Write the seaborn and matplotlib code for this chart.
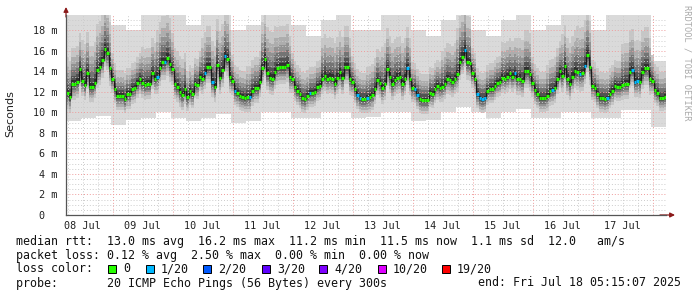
import numpy as np
import matplotlib
matplotlib.use("Agg")
import matplotlib.pyplot as plt
import seaborn as sns
import pandas as pd
from matplotlib.patches import Rectangle

# ---------------- data (hourly medians, ms) ----------------
median_ms = [
    11.9, 11.5, 12.8, 12.8, 13.0, 14.2, 13.1, 12.7, 13.8, 12.5,
    12.5, 12.9, 14.1, 14.4, 15.1, 16.2, 15.8, 14.3, 13.3, 12.3,
    11.6, 11.6, 11.6, 11.3, 11.8, 11.8, 12.3, 12.4, 12.9, 13.3,
    12.9, 12.7, 12.8, 12.8, 13.8, 13.3, 13.5, 14.3, 14.9, 14.9,
    15.3, 14.7, 14.2, 12.8, 12.5, 12.0, 11.7, 12.3, 11.5, 12.1,
    11.8, 12.8, 12.7, 13.5, 13.3, 13.8, 14.4, 14.4, 13.0, 12.5,
    14.6, 13.4, 14.1, 15.5, 15.2, 13.5, 13.1, 12.1, 11.9, 11.6,
    11.5, 11.4, 11.5, 11.5, 12.1, 12.4, 12.4, 13.0, 14.3,
    15.2, 13.8, 13.4, 13.3, 13.9, 14.3, 14.4, 14.4, 14.4, 14.6,
    13.5, 13.3, 12.5, 12.1, 11.8, 11.4, 11.3, 11.6, 11.9, 11.9,
    12.0, 12.5, 12.6, 13.3, 13.6, 13.3, 13.4, 13.3, 12.8, 13.4,
    13.9, 13.4, 14.4, 14.4, 13.3, 13.0, 12.3, 11.7, 11.4, 11.3, 11.3,
    11.4, 11.5, 11.7, 12.3, 13.2, 12.9, 12.4, 12.8, 14.2, 13.5,
    12.8, 13.2, 13.4, 13.5, 12.8, 13.3, 14.3, 13.3, 12.4, 12.3,
    11.7, 11.3, 11.2, 11.2, 11.2, 11.9, 11.8, 12.3, 12.6, 12.4,
    12.5, 12.8, 13.3, 13.2, 13.0, 13.3, 13.7, 14.9, 15.4, 16.1,
    14.9, 14.8, 13.8, 13.3, 11.8, 11.4, 11.3, 11.4, 12.1, 12.3,
    12.3, 12.6, 12.9, 13.0, 13.4, 13.3, 13.5, 13.8, 13.5, 13.8,
    13.3, 13.3, 13.1, 14.0, 14.0, 13.7, 12.9, 12.2, 11.8, 11.4,
    11.4, 11.4, 11.6, 12.1, 12.2, 12.4, 13.3, 14.0, 13.6, 14.5,
    13.3, 12.8, 13.5, 14.0, 13.9, 13.7, 13.8, 14.5, 15.6, 14.4,
    12.6, 12.4, 11.8, 11.4, 11.4, 11.3, 11.4, 11.8, 12.1, 12.6,
    12.5, 12.5, 12.7, 12.8, 12.8, 13.9, 14.1, 13.0, 13.1, 13.0,
    13.9, 14.3, 14.3, 13.3, 13.1, 12.2, 11.9, 11.4, 11.4, 11.5,
]
# hours (index) with 1/20 packet loss
loss_1of20_hours = [36, 39, 55, 58, 63, 67, 73, 97, 116, 117, 120, 136, 139,
                    140, 159, 164, 165, 166, 167, 179, 194, 205, 207, 216,
                    226, 227, 228]

# smoke envelope per 6-hour block (ms)
smoke_max = [20, 20, 20, 18.5, 18, 20, 20, 20, 18.5, 20,
             20, 18, 18.5, 20, 20, 18.5, 17.5, 19, 20, 18,
             18, 20, 20, 18, 17.5, 19, 20, 18, 17.5, 19,
             20, 18, 18.5, 20, 20, 18, 20, 20, 20, 15]
smoke_min = [9.2, 9.5, 9.7, 8.8, 9.3, 9.5, 10.0, 9.5, 9.2, 9.5,
             9.8, 9.0, 9.2, 10.0, 10.0, 9.5, 9.5, 10.0, 10.0, 9.5,
             9.6, 10.0, 10.0, 9.2, 9.3, 10.0, 10.5, 10.0, 9.5, 10.0,
             10.3, 9.5, 9.5, 10.0, 10.0, 9.5, 9.5, 10.2, 10.2, 8.6]
# spread of the denser smoke above / below the median per block (ms)
spread_up = [3.5, 4.0, 4.5, 2.5, 2.5, 3.5, 4.5, 3.5, 2.5, 4.0,
             4.5, 2.5, 3.0, 4.5, 4.0, 2.5, 2.5, 4.0, 4.0, 2.5,
             3.0, 4.0, 4.0, 2.5, 2.5, 3.5, 4.5, 2.5, 2.5, 3.5,
             4.0, 2.5, 3.0, 4.0, 4.5, 2.5, 2.5, 4.0, 4.0, 2.5]
spread_dn = [1.6, 1.5, 1.7, 1.4, 1.5, 1.5, 1.7, 1.5, 1.4, 1.5,
             1.6, 1.4, 1.5, 1.6, 1.6, 1.4, 1.4, 1.5, 1.6, 1.4,
             1.5, 1.6, 1.6, 1.4, 1.4, 1.5, 1.7, 1.4, 1.4, 1.5,
             1.6, 1.4, 1.5, 1.6, 1.7, 1.4, 1.4, 1.5, 1.6, 1.3]

day_labels = ["08 Jul", "09 Jul", "10 Jul", "11 Jul", "12 Jul",
              "13 Jul", "14 Jul", "15 Jul", "16 Jul", "17 Jul"]
y_ticks = [0, 2, 4, 6, 8, 10, 12, 14, 16, 18]
y_ticklabels = ["0  ", "2 m", "4 m", "6 m", "8 m", "10 m", "12 m",
                "14 m", "16 m", "18 m"]
loss_labels = ["0", "1/20", "2/20", "3/20", "4/20", "10/20", "19/20"]
loss_colors = ["#26ff00", "#00b8ff", "#0059ff", "#5e00ff", "#7e00ff",
               "#dd00ff", "#ff0000"]

# ---------------- figure ----------------
sns.set_style("white")
plt.rcParams["font.family"] = ["DejaVu Sans"]
MONO = "DejaVu Sans Mono"

W, H = 697, 297
fig = plt.figure(figsize=(W / 100, H / 100), dpi=100)
ax_l, ax_r, ax_t, ax_b = 66, 666, 15, 215
ax = fig.add_axes([ax_l / W, 1 - ax_b / H, (ax_r - ax_l) / W, (ax_b - ax_t) / H])

t0 = 5.25  # hours after 08 Jul 00:00
n = len(median_ms)
med = np.array(median_ms)
t = t0 + 0.5 + np.arange(n)
t_edges = t0 + np.arange(n + 1)
blk = np.arange(n) // 6

def step_vals(v):
    v = np.asarray(v, dtype=float)
    return np.append(v, v[-1])

# smoke layers (light outside, dark near the median)
b_edges = t0 + 6 * np.arange(len(smoke_max) + 1)
ax.fill_between(b_edges, step_vals(smoke_min), step_vals(smoke_max),
                step="post", color="#dadada", lw=0, zorder=1, antialiased=False)
up = np.array(spread_up)[blk]
dn = np.array(spread_dn)[blk]
layers = [(1.0, "#c6c6c6"), (0.75, "#adadad"), (0.55, "#929292"),
          (0.38, "#747474"), (0.22, "#525252"), (0.1, "#303030")]
for k, (frac, col) in enumerate(layers):
    ax.fill_between(t_edges, step_vals(med - dn * frac), step_vals(med + up * frac),
                    step="post", color=col, lw=0, zorder=1.1 + k * 0.05,
                    antialiased=False)

# grid
for y in np.arange(0.5, 19.5, 0.5):
    major = abs(y / 2 - round(y / 2)) < 1e-6
    ax.axhline(y, color="#ef9c9c" if major else "#cccccc", lw=0.7,
               ls=(0, (1, 2)), zorder=2)
for h in range(6, 246, 6):
    ax.axvline(h, color="#ef9c9c" if h % 24 == 0 else "#cccccc", lw=0.7,
               ls=(0, (1, 2)), zorder=2)

# median line
df = pd.DataFrame({"t": t, "median": med})
sns.lineplot(data=df, x="t", y="median", drawstyle="steps-mid",
             color="#1a1a1a", lw=0.9, ax=ax, zorder=4)
loss = np.zeros(n, dtype=int)
loss[loss_1of20_hours] = 1
seg_colors = [loss_colors[k] for k in loss]
ax.hlines(med, t - 0.5, t + 0.5, colors=seg_colors, lw=2.3, zorder=5)

ax.set_xlim(t0, t0 + 240)
ax.set_ylim(0, 19.5)
ax.set_xlabel("")
ax.set_ylabel("")

ax.set_yticks(y_ticks)
ax.set_yticklabels(y_ticklabels, fontfamily=MONO, fontsize=7.3, color="#222222")
ax.set_xticks([12 + 24 * k for k in range(len(day_labels))])
ax.set_xticklabels(day_labels, fontfamily=MONO, fontsize=7.3, color="#222222")
ax.tick_params(axis="y", length=3, width=0.8, color="#555555", pad=3)
ax.tick_params(axis="x", length=0, pad=4)

for s in ["top", "right"]:
    ax.spines[s].set_visible(False)
for s in ["left", "bottom"]:
    ax.spines[s].set_color("#555555")
    ax.spines[s].set_linewidth(0.9)
    ax.spines[s].set_zorder(6)

# axis arrows
ax.annotate("", xy=(0, 1.04), xytext=(0, 0.99), xycoords="axes fraction",
            arrowprops=dict(arrowstyle="-|>", color="#8b1a1a", lw=0.9,
                            mutation_scale=7, shrinkA=0, shrinkB=0))
ax.annotate("", xy=(1.015, 0), xytext=(0.99, 0), xycoords="axes fraction",
            arrowprops=dict(arrowstyle="-|>", color="#8b1a1a", lw=0.9,
                            mutation_scale=7, shrinkA=0, shrinkB=0))

# labels
fig.text(10 / W, 1 - 114 / H, "Seconds", rotation=90, ha="center",
         va="center", fontsize=8, color="#222222")
fig.text(687 / W, 1 - 5 / H, "RRDTOOL / TOBI OETIKER", rotation=270,
         ha="center", va="top", fontsize=6.2, fontfamily=MONO, color="#aaaaaa")

# legend lines
FS = 8.4
def ftext(x, y, s, **kw):
    fig.text(x / W, 1 - y / H, s, fontfamily=MONO, fontsize=FS,
             va="center", ha="left", color="#111111", **kw)

ftext(16, 241, "median rtt:  13.0 ms avg  16.2 ms max  11.2 ms min  "
               "11.5 ms now  1.1 ms sd  12.0   am/s")
ftext(16, 255, "packet loss: 0.12 % avg  2.50 % max  0.00 % min  0.00 % now")
ftext(16, 269, "loss color:")
sq_x = [108, 146, 203, 262, 319, 378, 442]
for xs, lab, col in zip(sq_x, loss_labels, loss_colors):
    fig.patches.append(Rectangle((xs / W, 1 - 273 / H), 8 / W, 8 / H,
                                 transform=fig.transFigure, facecolor=col,
                                 edgecolor="#000000", lw=0.7))
    ftext(xs + 15, 269, lab)
ftext(16, 283, "probe:       20 ICMP Echo Pings (56 Bytes) every 300s")
ftext(478, 283, "end: Fri Jul 18 05:15:07 2025")

fig.savefig("out.png", dpi=100)
